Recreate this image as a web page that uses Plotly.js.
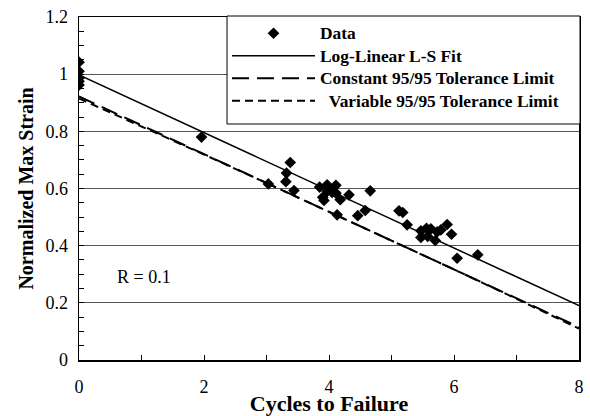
<!DOCTYPE html>
<html>
<head>
<meta charset="utf-8">
<script src="https://cdn.plot.ly/plotly-3.0.1.min.js"></script>
<style>html,body{margin:0;padding:0;background:#fff;}#chart{width:590px;height:416px;}</style>
</head>
<body>
<div id="chart"></div>
<script>
// Measured data (cycles to failure, normalized max strain)
const dataX = [0, 0, 0, 0, 0, 1.96, 3.03, 3.38, 3.32, 3.31, 3.44, 3.85, 3.97, 4.11, 4.02, 4.05, 3.97, 4.11, 3.90, 3.92, 4.18, 4.32, 4.66, 4.13, 4.46, 4.58, 5.12, 5.18, 5.25, 5.47, 5.56, 5.63, 5.47, 5.58, 5.70, 5.73, 5.79, 5.89, 5.96, 6.05, 6.38];
const dataY = [1.042, 1.010, 0.987, 0.975, 0.962, 0.780, 0.616, 0.691, 0.654, 0.624, 0.593, 0.605, 0.613, 0.611, 0.598, 0.586, 0.590, 0.584, 0.569, 0.558, 0.561, 0.578, 0.592, 0.508, 0.505, 0.523, 0.522, 0.516, 0.473, 0.452, 0.461, 0.459, 0.429, 0.432, 0.418, 0.448, 0.455, 0.474, 0.440, 0.356, 0.368];

// Curves
const curveX = [0, 1, 2, 3, 4, 5, 6, 7, 8];
const fitY = [0.997, 0.896, 0.795, 0.694, 0.593, 0.493, 0.392, 0.291, 0.190];
const constTolY = [0.922, 0.821, 0.720, 0.619, 0.518, 0.418, 0.317, 0.216, 0.115];
const varTolY = [0.915, 0.818, 0.719, 0.619, 0.519, 0.419, 0.317, 0.214, 0.110];

const seriesNames = ["Data", "Log-Linear L-S Fit", "Constant 95/95 Tolerance Limit", "\u00a0\u00a0Variable 95/95 Tolerance Limit"];
const xTitle = "Cycles to Failure";
const yTitle = "Normalized Max Strain";
const noteText = "R = 0.1";

const FONT = "Liberation Serif";
const legendLabel = s => '<span style="font-size:17.4px">' + s + '</span>';

const traces = [
  {x: dataX, y: dataY, name: legendLabel(seriesNames[0]), type: 'scatter', mode: 'markers',
   marker: {symbol: 'diamond', size: 9, color: '#000'}},
  {x: curveX, y: fitY, name: legendLabel(seriesNames[1]), type: 'scatter', mode: 'lines',
   line: {color: '#000', width: 1.5}},
  {x: curveX, y: constTolY, name: legendLabel(seriesNames[2]), type: 'scatter', mode: 'lines',
   line: {color: '#000', width: 2, dash: '17px,8px'}},
  {x: curveX, y: varTolY, name: legendLabel(seriesNames[3]), type: 'scatter', mode: 'lines',
   line: {color: '#000', width: 2, dash: '8px,5px'}}
];

// plot area in px: x 79..579, y 17..360
const PW = 500, PH = 343;
const legendBox = {x0: (227 - 79) / PW, x1: (580 - 79) / PW, y0: (360 - 124) / PH, y1: (360 - 16) / PH};

const layout = {
  width: 590, height: 416,
  margin: {l: 79, r: 11, t: 17, b: 56, pad: 0},
  paper_bgcolor: '#fff', plot_bgcolor: '#fff',
  font: {family: FONT, color: '#000', size: 18},
  showlegend: true,
  legend: {
    x: 0.296, y: 1.0, xanchor: 'left', yanchor: 'top',
    bgcolor: 'rgba(0,0,0,0)', borderwidth: 0,
    font: {family: FONT, size: 15, weight: 'bold', color: '#000'},
    itemwidth: 83, tracegroupgap: 0
  },
  shapes: [
    {type: 'rect', xref: 'paper', yref: 'paper', layer: 'above',
     x0: legendBox.x0, x1: legendBox.x1, y0: legendBox.y0, y1: legendBox.y1,
     fillcolor: '#fff', line: {color: '#000', width: 1}}
  ],
  xaxis: {
    range: [0, 8], dtick: 2, tick0: 0,
    ticks: 'inside', ticklen: 5, tickwidth: 1, tickcolor: '#000',
    minor: {dtick: 1, ticks: 'inside', ticklen: 5, tickwidth: 1, tickcolor: '#000', showgrid: false},
    showgrid: false, zeroline: false,
    showline: true, linecolor: '#000', linewidth: 1.5, mirror: true,
    tickfont: {family: FONT, size: 18},
    ticklabelstandoff: 10,
    title: {text: xTitle, font: {family: FONT, size: 22, weight: 'bold'}, standoff: 0}
  },
  yaxis: {
    range: [0, 1.2], dtick: 0.2, tick0: 0,
    ticks: 'inside', ticklen: 5, tickwidth: 1, tickcolor: '#000',
    minor: {dtick: 0.05, ticks: 'inside', ticklen: 5, tickwidth: 1, tickcolor: '#000', showgrid: false},
    showgrid: true, gridcolor: '#555', gridwidth: 1,
    zeroline: false,
    showline: true, linecolor: '#000', linewidth: 1.5, mirror: true,
    tickfont: {family: FONT, size: 18},
    ticklabelstandoff: 6,
    title: {text: yTitle, font: {family: FONT, size: 20, weight: 'bold'}, standoff: 6}
  },
  annotations: [
    {x: 1.04, y: 0.29, xref: 'x', yref: 'y', text: noteText, showarrow: false,
     font: {family: FONT, size: 18, color: '#000'}}
  ]
};

Plotly.newPlot('chart', traces, layout, {displayModeBar: false, staticPlot: true});
</script>
</body>
</html>
